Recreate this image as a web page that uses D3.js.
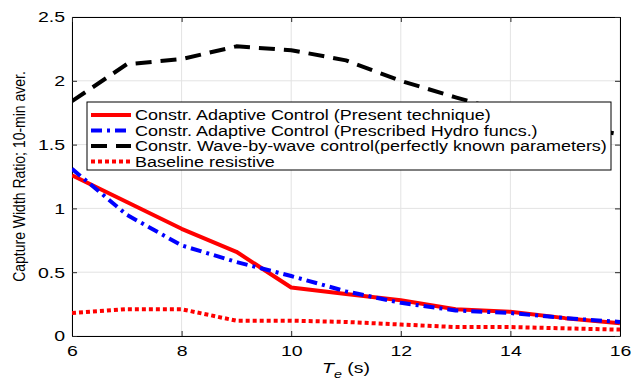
<!DOCTYPE html>
<html>
<head>
<meta charset="utf-8">
<script src="https://cdn.jsdelivr.net/npm/d3@7"></script>
<style>
  html, body { margin: 0; padding: 0; background: #fff; }
  svg { display: block; font-family: "Liberation Sans", Arial, sans-serif; }
</style>
</head>
<body>
<svg id="chart" width="642" height="381"></svg>
<script>
// Wave period Te (s)
const periods = [6, 7, 8, 9, 10, 11, 12, 13, 14, 15, 16];

// Capture width ratio, 10-minute averages
const adaptivePresent = [1.26, 1.05, 0.84, 0.66, 0.38, 0.33, 0.28, 0.21, 0.19, 0.14, 0.10];
const adaptivePrescribed = [1.31, 0.95, 0.71, 0.58, 0.47, 0.35, 0.26, 0.20, 0.18, 0.14, 0.11];
const waveByWave = [1.84, 2.13, 2.17, 2.27, 2.24, 2.16, 2.00, 1.87, 1.75, 1.66, 1.58];
const baseline = [0.18, 0.21, 0.21, 0.12, 0.12, 0.11, 0.09, 0.07, 0.07, 0.06, 0.05];

const xTicks = [6, 8, 10, 12, 14, 16];
const yTicks = [0, 0.5, 1, 1.5, 2, 2.5];

const seriesNames = [
  "Constr. Adaptive Control (Present technique)",
  "Constr. Adaptive Control (Prescribed Hydro funcs.)",
  "Constr. Wave-by-wave control(perfectly known parameters)",
  "Baseline resistive"
];

const series = [
  { name: seriesNames[0], values: adaptivePresent, color: "#ff0000", dash: null },
  { name: seriesNames[1], values: adaptivePrescribed, color: "#0000ff", dash: "11,5,3,5" },
  { name: seriesNames[2], values: waveByWave, color: "#000000", dash: "16,9" },
  { name: seriesNames[3], values: baseline, color: "#ff0000", dash: "4,3" }
];

// the figure's lettering is set wide
const SX = 1.3;

const svg = d3.select("#chart");
const m = { left: 72, right: 22, top: 17, bottom: 45 };
const W = 642, H = 381;
const x = d3.scaleLinear().domain([6, 16]).range([m.left, W - m.right]);
const y = d3.scaleLinear().domain([0, 2.5]).range([H - m.bottom, m.top]);

// grid
const grid = svg.append("g").attr("stroke", "#e3e3e3").attr("stroke-width", 1);
xTicks.forEach(t => grid.append("line")
  .attr("x1", x(t)).attr("x2", x(t)).attr("y1", y(0)).attr("y2", y(2.5)));
yTicks.forEach(t => grid.append("line")
  .attr("x1", x(6)).attr("x2", x(16)).attr("y1", y(t)).attr("y2", y(t)));

// axes: ticks point inward, mirrored on top/right
const fmt = d => String(d);
svg.append("g").attr("transform", `translate(0,${y(0)})`)
  .call(d3.axisBottom(x).tickValues(xTicks).tickFormat(fmt).tickSizeInner(-5).tickSizeOuter(0).tickPadding(9))
  .call(g => g.selectAll("text").attr("font-size", 15).attr("fill", "#000")
    .attr("transform", `scale(${SX},1)`));
svg.append("g").attr("transform", `translate(${x(6)},0)`)
  .call(d3.axisLeft(y).tickValues(yTicks).tickFormat(fmt).tickSizeInner(-5).tickSizeOuter(0).tickPadding(7))
  .call(g => g.selectAll("text").attr("font-size", 15).attr("fill", "#000")
    .attr("transform", `translate(-7,0) scale(${SX},1) translate(7,0)`));
svg.append("g").attr("transform", `translate(0,${y(2.5)})`)
  .call(d3.axisTop(x).tickValues(xTicks).tickFormat("").tickSizeInner(-5).tickSizeOuter(0));
svg.append("g").attr("transform", `translate(${x(16)},0)`)
  .call(d3.axisRight(y).tickValues(yTicks).tickFormat("").tickSizeInner(-5).tickSizeOuter(0));
svg.selectAll(".domain").attr("stroke", "#000").attr("stroke-width", 1);
svg.selectAll(".tick line").attr("stroke", "#262626");

// clip lines to plot area
svg.append("clipPath").attr("id", "plotclip").append("rect")
  .attr("x", x(6)).attr("y", y(2.5)).attr("width", x(16) - x(6)).attr("height", y(0) - y(2.5));

const line = d3.line().x((d, i) => x(periods[i])).y(d => y(d));
const lines = svg.append("g").attr("clip-path", "url(#plotclip)");
// draw order: baseline, wave-by-wave, present, prescribed on top
[series[3], series[2], series[0], series[1]].forEach(s => {
  lines.append("path")
    .datum(s.values)
    .attr("d", line)
    .attr("fill", "none")
    .attr("stroke", s.color)
    .attr("stroke-width", 4)
    .attr("stroke-dasharray", s.dash)
    .attr("stroke-linejoin", "round");
});

// legend
const lg = svg.append("g");
const lx = 87, ly = 102, lw = 524, lh = 68;
lg.append("rect").attr("x", lx).attr("y", ly).attr("width", lw).attr("height", lh)
  .attr("fill", "#fff").attr("stroke", "#000").attr("stroke-width", 1);
series.forEach((s, i) => {
  const yy = ly + 13 + i * 15.5;
  lg.append("line").attr("x1", lx + 4).attr("x2", lx + 44).attr("y1", yy).attr("y2", yy)
    .attr("stroke", s.color).attr("stroke-width", 4).attr("stroke-dasharray", s.dash);
  lg.append("text")
    .attr("transform", `translate(${lx + 48},${yy + 5}) scale(1.24,1)`)
    .attr("font-size", 14.5).attr("fill", "#000").text(s.name);
});

// axis titles
svg.append("text")
  .attr("transform", `translate(25,${(y(0) + y(2.5)) / 2}) rotate(-90) scale(1,1.2)`)
  .attr("text-anchor", "middle").attr("font-size", 14).attr("fill", "#000")
  .text("Capture Width Ratio; 10-min aver.");

const xt = svg.append("text")
  .attr("transform", `translate(${x(11)},373) scale(${SX},1)`)
  .attr("text-anchor", "middle").attr("font-size", 15).attr("fill", "#000");
xt.append("tspan").attr("font-style", "italic").text("T");
xt.append("tspan").attr("font-style", "italic").attr("font-size", 11).attr("dy", 5).text("e");
xt.append("tspan").attr("dy", -5).text(" (s)");
</script>
</body>
</html>
